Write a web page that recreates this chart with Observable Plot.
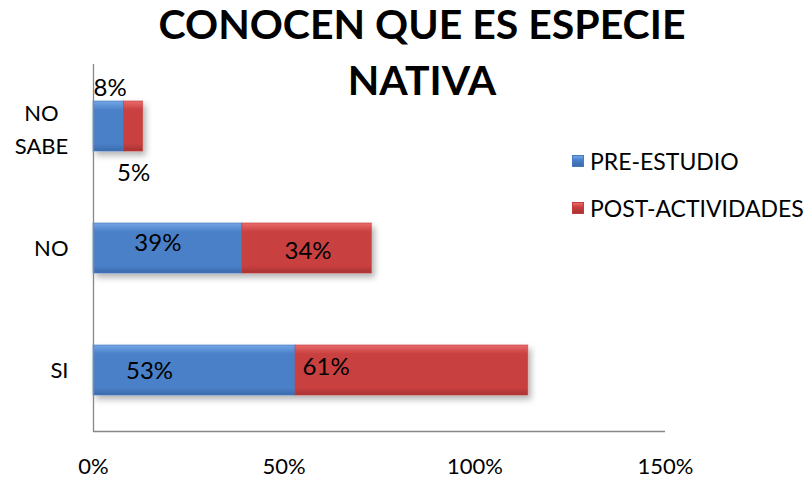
<!DOCTYPE html>
<html>
<head>
<meta charset="utf-8">
<script src="https://cdn.jsdelivr.net/npm/d3@7"></script>
<script src="https://cdn.jsdelivr.net/npm/@observablehq/plot@0.6"></script>
<style>
  html, body { margin: 0; padding: 0; background: #fff; }
  #wrap { position: relative; width: 806px; height: 479px; font-family: Lato, "Open Sans", sans-serif; }
  #title { position: absolute; left: 0; width: 844px; top: -4px; text-align: center; font-weight: bold; font-size: 41px; line-height: 56px; color: #000; }
  #legend { position: absolute; left: 572px; top: 147px; font-size: 23px; color: #000; white-space: nowrap; }
  .li { display: flex; align-items: center; height: 28px; margin-bottom: 19px; }
  .sw { width: 10px; height: 10px; margin-right: 6px; }
</style>
</head>
<body>
<div id="wrap">
  <div id="chart"></div>
  <div id="title">CONOCEN QUE ES ESPECIE<br>NATIVA</div>
  <div id="legend"></div>
</div>
<script>
const categories = ["NO SABE", "NO", "SI"];
const seriesNames = ["PRE-ESTUDIO", "POST-ACTIVIDADES"];
const preValues = [8, 39, 53];
const postValues = [5, 34, 61];
const xTicks = [0, 50, 100, 150];

const colors = ["#4579c2", "#c63c3c"];
const gradIds = ["gBlue", "gRed"];
const gradStops = [
  ["#74a6e6", "#4a80c8", "#3b6aad"],
  ["#ea6a6a", "#c94040", "#a83232"]
];

// build rows
const rows = [];
categories.forEach((c, i) => {
  const vals = [preValues[i], postValues[i]];
  let start = 0;
  vals.forEach((v, s) => {
    rows.push({cat: c, series: seriesNames[s], value: v, start, end: start + v, mid: start + v / 2, key: i + "-" + s});
    start += v;
  });
});

// label layout (per category-series): anchor x, text anchor, pixel offsets
const labelLayout = {
  "0-0": {at: "start", anchor: "start", dx: 0, dy: -38},
  "0-1": {at: "mid", anchor: "middle", dx: 0, dy: 47},
  "1-0": {at: "mid", anchor: "middle", dx: -10, dy: -5},
  "1-1": {at: "mid", anchor: "middle", dx: 1, dy: 3},
  "2-0": {at: "mid", anchor: "middle", dx: -45, dy: 1},
  "2-1": {at: "start", anchor: "start", dx: 7, dy: -3}
};

const labelMarks = Object.entries(labelLayout).map(([k, L]) =>
  Plot.text(rows.filter(r => r.key === k), {
    x: L.at === "start" ? "start" : "mid",
    y: "cat",
    text: d => d.value + "%",
    textAnchor: L.anchor,
    dx: L.dx,
    dy: L.dy,
    fontSize: 24,
    fill: "#000"
  })
);

const chart = Plot.plot({
  width: 806,
  height: 479,
  marginLeft: 93,
  marginRight: 141,
  marginTop: 64,
  marginBottom: 47,
  style: {fontFamily: "Lato, 'Open Sans', sans-serif", background: "white", overflow: "visible"},
  x: {domain: [0, 150], ticks: xTicks, tickFormat: d => d + "%"},
  y: {domain: categories, padding: 0, label: null},
  marks: [
    Plot.barX(rows, {
      x1: "start", x2: "end", y: "cat",
      fill: d => "url(#" + gradIds[seriesNames.indexOf(d.series)] + ")",
      stroke: d => colors[seriesNames.indexOf(d.series)],
      strokeOpacity: 0.6,
      insetTop: 36, insetBottom: 36
    }),
    ...labelMarks,
    Plot.ruleX([0], {stroke: "#888", strokeWidth: 1.3}),
    Plot.ruleY([0], {y: () => categories[2], x1: 0, x2: 150, stroke: "#888", strokeWidth: 1.3, dy: 61}),
    Plot.axisX({ticks: xTicks, tickFormat: d => d + "%", tickSize: 0, tickPadding: 26, fontSize: 22, color: "#000", stroke: "none", label: null}),
    Plot.axisY({ticks: categories.filter(c => !c.includes(" ")), tickSize: 0, tickPadding: 25, textAnchor: "end", fontSize: 22, color: "#000", label: null}),
    Plot.axisY({ticks: categories.filter(c => c.includes(" ")), tickSize: 0, tickPadding: 0, textAnchor: "middle", dx: -52, dy: 0, fontSize: 22, color: "#000", lineHeight: 1.5, tickFormat: d => d.replace(" ", "\n"), label: null})
  ]
});

// gradients and shadow
const ns = "http://www.w3.org/2000/svg";
const defs = document.createElementNS(ns, "defs");
gradIds.forEach((id, i) => {
  const g = document.createElementNS(ns, "linearGradient");
  g.setAttribute("id", id);
  g.setAttribute("x1", "0"); g.setAttribute("y1", "0");
  g.setAttribute("x2", "0"); g.setAttribute("y2", "1");
  [[0, 0], [0.18, 1], [0.85, 1], [1, 2]].forEach(([o, c]) => {
    const s = document.createElementNS(ns, "stop");
    s.setAttribute("offset", o);
    s.setAttribute("stop-color", gradStops[i][c]);
    g.appendChild(s);
  });
  defs.appendChild(g);
});
const f = document.createElementNS(ns, "filter");
f.setAttribute("id", "shadow");
f.setAttribute("x", "-10%"); f.setAttribute("y", "-20%"); f.setAttribute("width", "130%"); f.setAttribute("height", "160%");
f.innerHTML = '<feDropShadow dx="3" dy="4" stdDeviation="3" flood-color="#000" flood-opacity="0.3"/>';
defs.appendChild(f);
chart.insertBefore(defs, chart.firstChild);
const barGroup = chart.querySelector("g[aria-label='bar']");
if (barGroup) barGroup.setAttribute("filter", "url(#shadow)");

document.getElementById("chart").appendChild(chart);

// legend
const leg = document.getElementById("legend");
seriesNames.forEach((s, i) => {
  const row = document.createElement("div");
  row.className = "li";
  const sw = document.createElement("span");
  sw.className = "sw";
  sw.style.background = `linear-gradient(${gradStops[i][0]}, ${gradStops[i][1]} 40%, ${gradStops[i][2]})`;
  sw.style.border = "1px solid " + colors[i];
  const t = document.createElement("span");
  t.textContent = s;
  row.appendChild(sw); row.appendChild(t);
  leg.appendChild(row);
});
</script>
</body>
</html>
